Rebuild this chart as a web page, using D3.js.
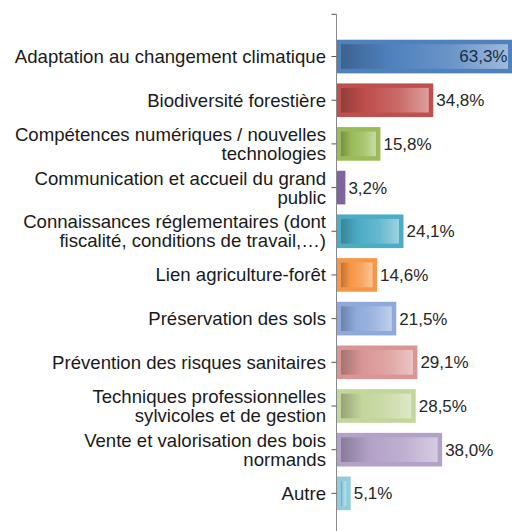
<!DOCTYPE html>
<html>
<head>
<meta charset="utf-8">
<script src="https://cdn.jsdelivr.net/npm/d3@7"></script>
<style>
  html, body { margin: 0; padding: 0; background: #ffffff; }
  svg { display: block; }
</style>
</head>
<body>
<script>
// ---- data ----
const categories = [
  "Adaptation au changement climatique",
  "Biodiversité forestière",
  "Compétences numériques / nouvelles\ntechnologies",
  "Communication et accueil du grand\npublic",
  "Connaissances réglementaires (dont\nfiscalité, conditions de travail,…)",
  "Lien agriculture-forêt",
  "Préservation des sols",
  "Prévention des risques sanitaires",
  "Techniques professionnelles\nsylvicoles et de gestion",
  "Vente et valorisation des bois\nnormands",
  "Autre"
];
const values = [63.3, 34.8, 15.8, 3.2, 24.1, 14.6, 21.5, 29.1, 28.5, 38.0, 5.1];
const colors = [
  "#4f81bd", "#c0504d", "#9bbb59", "#8064a2", "#4bacc6", "#f79646",
  "#8eaadb", "#d99694", "#c3d69b", "#b3a2c7", "#93cddd"
];

// ---- chart ----
const W = 512, H = 531;
const axisX = 336.5;
const svg = d3.select("body").append("svg").attr("width", W).attr("height", H);

const x = d3.scaleLinear().domain([0, 100]).range([axisX, axisX + 278]);
const y = d3.scaleBand().domain(categories).range([34.7, 515.2])
  .paddingInner(0.23).paddingOuter(0.115);

const defs = svg.append("defs");
colors.forEach((c, i) => {
  const base = d3.color(c);
  const dark = base.darker(0.75);
  const mid = d3.interpolateRgb(c, "#ffffff")(0.15);
  const light = d3.interpolateRgb(c, "#ffffff")(0.45);
  const g = defs.append("linearGradient").attr("id", "g" + i)
    .attr("x1", "0%").attr("x2", "100%").attr("y1", "0%").attr("y2", "0%");
  g.append("stop").attr("offset", "0%").attr("stop-color", dark.formatHex());
  g.append("stop").attr("offset", "30%").attr("stop-color", base.formatHex());
  g.append("stop").attr("offset", "65%").attr("stop-color", mid);
  g.append("stop").attr("offset", "100%").attr("stop-color", light);
});

const rows = svg.append("g").selectAll("g").data(categories).join("g");

// outer bar (frame)
rows.append("rect")
  .attr("x", x(0))
  .attr("y", d => y(d))
  .attr("width", (d, i) => x(values[i]) - x(0))
  .attr("height", y.bandwidth())
  .attr("fill", (d, i) => colors[i]);

// inner gradient
const inset = 4.5;
rows.append("rect")
  .attr("x", x(0) + inset)
  .attr("y", d => y(d) + inset)
  .attr("width", (d, i) => Math.max(0, x(values[i]) - x(0) - 2 * inset))
  .attr("height", y.bandwidth() - 2 * inset)
  .attr("fill", (d, i) => `url(#g${i})`);

// axis line and ticks
const step = y.step();
const topY = y.range()[0] - step / 2 + 1.5;
svg.append("line")
  .attr("x1", axisX).attr("x2", axisX)
  .attr("y1", topY).attr("y2", H)
  .attr("stroke", "#8a8a8a").attr("stroke-width", 1);
const tickYs = [topY].concat(categories.map(d => y(d) + y.bandwidth() / 2));
svg.append("g").selectAll("line").data(tickYs).join("line")
  .attr("x1", axisX - 5).attr("x2", axisX)
  .attr("y1", d => d).attr("y2", d => d)
  .attr("stroke", "#555").attr("stroke-width", 1);

// category labels
const lineH = 19;
rows.append("text")
  .attr("text-anchor", "end")
  .attr("font-family", "Liberation Sans, Arial, sans-serif")
  .attr("font-size", 18.6)
  .attr("fill", "#1a1a1a")
  .each(function (d) {
    const lines = d.split("\n");
    const cy = y(d) + y.bandwidth() / 2;
    const t = d3.select(this);
    lines.forEach((ln, k) => {
      t.append("tspan")
        .attr("x", 326)
        .attr("y", cy + (k - (lines.length - 1) / 2) * lineH)
        .attr("dy", "0.35em")
        .text(ln);
    });
  });

// value labels
const fmt = v => d3.format(".1f")(v).replace(".", ",") + "%";
rows.append("text")
  .attr("font-family", "Liberation Sans, Arial, sans-serif")
  .attr("font-size", 17)
  .attr("fill", "#262626")
  .attr("y", d => y(d) + y.bandwidth() / 2)
  .attr("dy", "0.35em")
  .text((d, i) => fmt(values[i]))
  .each(function (d, i) {
    const w = this.getComputedTextLength();
    const xe = x(values[i]);
    if (xe + 3 + w > W) {
      d3.select(this).attr("x", xe - 5).attr("text-anchor", "end").attr("fill", "#1c2c45");
    } else {
      d3.select(this).attr("x", xe + 3).attr("text-anchor", "start");
    }
  });
</script>
</body>
</html>
